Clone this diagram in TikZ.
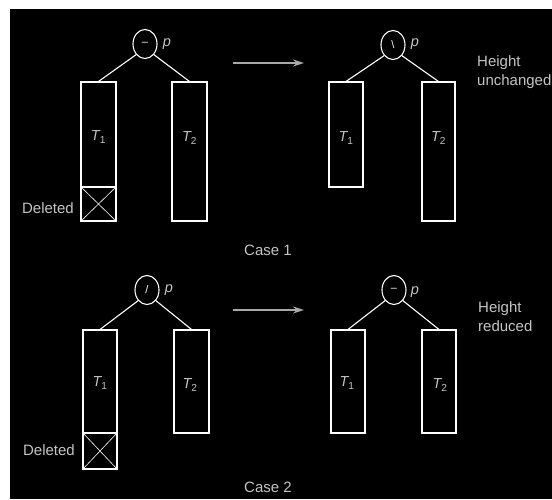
\documentclass[tikz,border=0pt]{standalone}
\usepackage{fontspec}
\setmainfont{Liberation Sans}
\usetikzlibrary{shapes.geometric,arrows.meta}
\definecolor{txt}{HTML}{C4C4C4}
\definecolor{arrowgray}{HTML}{A8A8A8}
\tikzset{
  wire/.style={draw=white,line width=1.1pt},
  treebox/.style={rectangle,draw=white,line width=1.1pt,inner sep=0pt,minimum width=#1},
  treebox/.default=35pt,
  balnode/.style={ellipse,draw=white,line width=1.1pt,minimum width=24pt,minimum height=29pt,inner sep=0pt,text=white,font=\fontsize{11}{11}\selectfont},
  lbl/.style={text=txt,font=\fontsize{15}{20}\selectfont,inner sep=0pt},
  tlbl/.style={text=txt,font=\fontsize{14.5}{16}\selectfont\itshape,inner sep=0pt},
  side/.style={text=txt,font=\fontsize{15}{20}\selectfont,inner sep=0pt,anchor=west,align=left},
  move/.style={draw=arrowgray,line width=1.2pt,-{Stealth[length=11pt,width=7pt]}},
}
\newcommand{\tsub}[1]{\textit{T}\textsubscript{\upshape #1}}
\begin{document}
\begin{tikzpicture}[x=1pt,y=-1pt]
\useasboundingbox (0,0) rectangle (552,499);
\fill[white] (0,0) rectangle (552,499);
\fill[black] (10,9) rectangle (552,499);

% ---------- Case 1, before ----------
\node[balnode] (c1a) at (145,44) {–};
\node[tlbl] (p1a) at (167,44) {p};
\node[treebox,minimum height=105pt] (t1a) at (98.5,134.5) {};
\node[treebox,minimum height=34pt] (d1) at (98.5,204) {};
\draw[white,line width=0.6pt] (d1.north west) -- (d1.south east) (d1.north east) -- (d1.south west);
\node[treebox,minimum height=139pt] (t2a) at (189.5,151.5) {};
\node[tlbl] (l1a) at (98.5,137) {\tsub{1}};
\node[tlbl] (l2a) at (189.5,138) {\tsub{2}};
\node[lbl,anchor=east] (del1) at (74,208) {Deleted};
\draw[wire] (c1a.south west) -- (t1a.north);
\draw[wire] (c1a.south east) -- (t2a.north);

\coordinate (a1s) at (233,63);
\coordinate (a1e) at (304,63);
\draw[move] (a1s) -- (a1e);

% ---------- Case 1, after ----------
\node[balnode] (c1b) at (393,45) {\textbackslash};
\node[tlbl] (p1b) at (415,44) {p};
\node[treebox=34pt,minimum height=105pt] (t1b) at (346,134.5) {};
\node[treebox=33pt,minimum height=139pt] (t2b) at (438.5,151.5) {};
\node[tlbl] (l1b) at (346,138) {\tsub{1}};
\node[tlbl] (l2b) at (438.5,138) {\tsub{2}};
\draw[wire] (c1b.south west) -- (t1b.north);
\draw[wire] (c1b.south east) -- (t2b.north);
\node[side] (h1) at (477,72) {Height\\[-1pt]unchanged};

\node[lbl] (case1) at (268,250) {Case 1};

% ---------- Case 2, before ----------
\node[balnode] (c2a) at (147,290) {/};
\node[tlbl] (p2a) at (169,290) {p};
\node[treebox=34pt,minimum height=103pt] (t1c) at (100,381.5) {};
\node[treebox=34pt,minimum height=36pt] (d2) at (100,451) {};
\draw[white,line width=0.6pt] (d2.north west) -- (d2.south east) (d2.north east) -- (d2.south west);
\node[treebox,minimum height=103pt] (t2c) at (191.5,381.5) {};
\node[tlbl] (l1c) at (100,383) {\tsub{1}};
\node[tlbl] (l2c) at (190,385) {\tsub{2}};
\node[lbl,anchor=east] (del2) at (75,450) {Deleted};
\draw[wire] (c2a.south west) -- (t1c.north);
\draw[wire] (c2a.south east) -- (t2c.north);

\coordinate (a2s) at (233,310);
\coordinate (a2e) at (304,310);
\draw[move] (a2s) -- (a2e);

% ---------- Case 2, after ----------
\node[balnode] (c2b) at (394,290) {–};
\node[tlbl] (p2b) at (415,292) {p};
\node[treebox=34pt,minimum height=103pt] (t1d) at (348,381.5) {};
\node[treebox=34pt,minimum height=103pt] (t2d) at (439,381.5) {};
\node[tlbl] (l1d) at (347,383) {\tsub{1}};
\node[tlbl] (l2d) at (440,385) {\tsub{2}};
\draw[wire] (c2b.south west) -- (t1d.north);
\draw[wire] (c2b.south east) -- (t2d.north);
\node[side] (h2) at (478,317) {Height\\[-1pt]reduced};

\node[lbl] (case2) at (268,487) {Case 2};
\end{tikzpicture}
\end{document}
